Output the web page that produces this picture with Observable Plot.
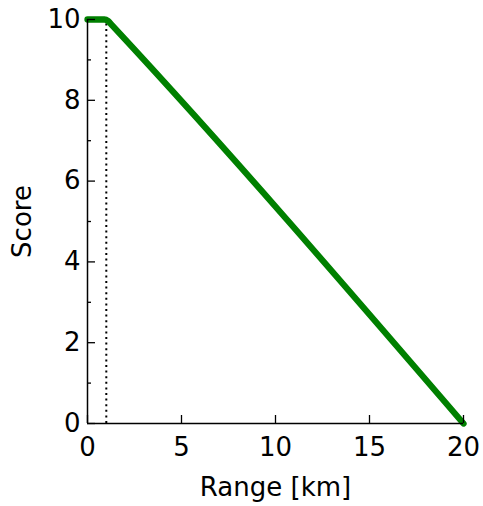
<!DOCTYPE html>
<html>
<head>
<meta charset="utf-8">
<script src="https://cdn.jsdelivr.net/npm/d3@7"></script>
<script src="https://cdn.jsdelivr.net/npm/@observablehq/plot@0.6"></script>
<style>
  html, body { margin: 0; padding: 0; background: #fff; }
  #chart svg { display: block; }
</style>
</head>
<body>
<div id="chart"></div>
<script>
const rangeKm = [0, 0.9, 1.1, 1.3, 20];
const score = [10, 10, 9.96, 9.86, 0];
const thresholdKm = [1];
const xTicks = [0, 5, 10, 15, 20];
const yTicks = [0, 2, 4, 6, 8, 10];
const yMinorTicks = [1, 3, 5, 7, 9];
const xLabel = "Range [km]";
const yLabel = "Score";

const data = rangeKm.map((x, i) => ({x, y: score[i]}));
const font = "DejaVu Sans, sans-serif";

const chart = Plot.plot({
  width: 483,
  height: 506,
  marginLeft: 87,
  marginRight: 20,
  marginTop: 19,
  marginBottom: 83,
  style: {fontFamily: font, background: "#fff", color: "#000"},
  x: {domain: [0, 20]},
  y: {domain: [0, 10]},
  marks: [
    Plot.ruleX(thresholdKm, {y1: 0, y2: 10, stroke: "#000", strokeWidth: 2, strokeDasharray: "2,3.6"}),
    Plot.line(data, {x: "x", y: "y", stroke: "#008000", strokeWidth: 6.3, curve: "monotone-x", strokeLinejoin: "round"}),
    Plot.ruleX([0], {stroke: "#000", strokeWidth: 1.5}),
    Plot.ruleY([0], {stroke: "#000", strokeWidth: 1.5}),
    Plot.axisY(yTicks, {tickSize: 0, tickPadding: 7, fontSize: 26, label: null, stroke: "#000"}),
    Plot.axisY(yTicks, {tickSize: 8, dx: 8, tickFormat: () => "", label: null, stroke: "#000", strokeWidth: 1.3}),
    Plot.axisY(yMinorTicks, {tickSize: 4, dx: 4, tickFormat: () => "", label: null, stroke: "#000", strokeWidth: 1.3}),
    Plot.axisX(xTicks, {tickSize: 0, tickPadding: 14, fontSize: 26, label: null}),
    Plot.axisX(xTicks, {tickSize: 8, dy: -8, tickFormat: () => "", label: null, stroke: "#000", strokeWidth: 1.3}),
    Plot.text([xLabel], {frameAnchor: "bottom", dy: 72, fontSize: 26, fill: "#000"}),
    Plot.text([yLabel], {frameAnchor: "left", textAnchor: "middle", dx: -65, rotate: -90, fontSize: 26, fill: "#000"})
  ]
});
document.getElementById("chart").appendChild(chart);
</script>
</body>
</html>
